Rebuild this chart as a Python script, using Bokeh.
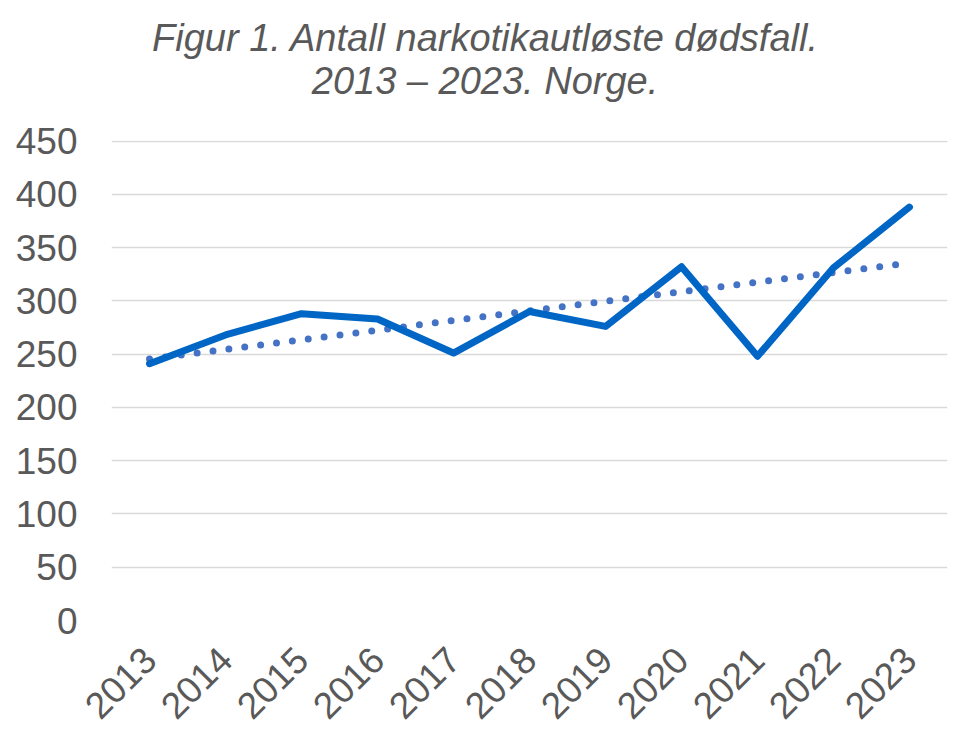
import math
from bokeh.plotting import figure
from bokeh.models import FactorRange, Range1d, FixedTicker, ColumnDataSource, Div
from bokeh.layouts import column
from bokeh.embed import file_html
from bokeh.resources import INLINE

# ---- data ----
years = ["2013", "2014", "2015", "2016", "2017", "2018", "2019", "2020", "2021", "2022", "2023"]
deaths = [241, 268, 288, 283, 251, 290, 276, 332, 248, 331, 388]
trend_years = ["2013", "2023"]
trend_values = [245.5, 335.5]
y_ticks = [0, 50, 100, 150, 200, 250, 300, 350, 400, 450]
title_lines = ["Figur 1. Antall narkotikautløste dødsfall.", "2013 – 2023. Norge."]

TEXT = "#595959"
FONT = "Liberation Sans"
TITLE_H = 110

title = Div(
    text=('<div style="width:970px;padding-top:17px;text-align:center;'
          'font-family:\'Liberation Sans\';font-style:italic;font-size:38px;'
          'line-height:43px;color:#595959;white-space:nowrap;">'
          + title_lines[0] + "<br>" + title_lines[1] + "</div>"),
    width=970, height=TITLE_H, margin=0)

p = figure(width=970, height=748 - TITLE_H, x_range=FactorRange(*years, range_padding=0),
           y_range=Range1d(0, 450.5), output_backend="svg", toolbar_location=None,
           min_border_left=111, min_border_right=23, min_border_top=140 - TITLE_H,
           min_border_bottom=128, margin=0)
p.outline_line_color = None
p.background_fill_color = "white"
p.border_fill_color = "white"

# grid
p.xgrid.grid_line_color = None
p.ygrid.grid_line_color = "#d9d9d9"
p.ygrid.grid_line_width = 1.3
p.ygrid.ticker = FixedTicker(ticks=y_ticks)

# y axis
p.yaxis.ticker = FixedTicker(ticks=y_ticks)
p.yaxis.axis_line_color = None
p.yaxis.major_tick_line_color = None
p.yaxis.minor_tick_line_color = None
p.yaxis.major_tick_out = 0
p.yaxis.major_tick_in = 0
p.yaxis.major_label_standoff = 34
p.yaxis.major_label_text_font = FONT
p.yaxis.major_label_text_font_size = "37px"
p.yaxis.major_label_text_color = TEXT

# x axis
p.xaxis.axis_line_color = None
p.xaxis.major_tick_line_color = None
p.xaxis.major_tick_out = 0
p.xaxis.major_tick_in = 0
p.xaxis.major_label_orientation = math.pi / 4
p.xaxis.major_label_standoff = 33
p.xaxis.major_label_text_font = FONT
p.xaxis.major_label_text_font_size = "37px"
p.xaxis.major_label_text_color = TEXT

# trend line (dotted)
p.line(x=trend_years, y=trend_values, line_color="#4472C4", line_width=7,
       line_dash="0 16", line_cap="round")

# data line
src = ColumnDataSource(dict(x=years, y=deaths))
p.line(x="x", y="y", source=src, line_color="#0066C6", line_width=7,
       line_join="round", line_cap="round")

layout = column(title, p, spacing=0, margin=0)
open("out.html", "w").write(file_html(layout, INLINE))
